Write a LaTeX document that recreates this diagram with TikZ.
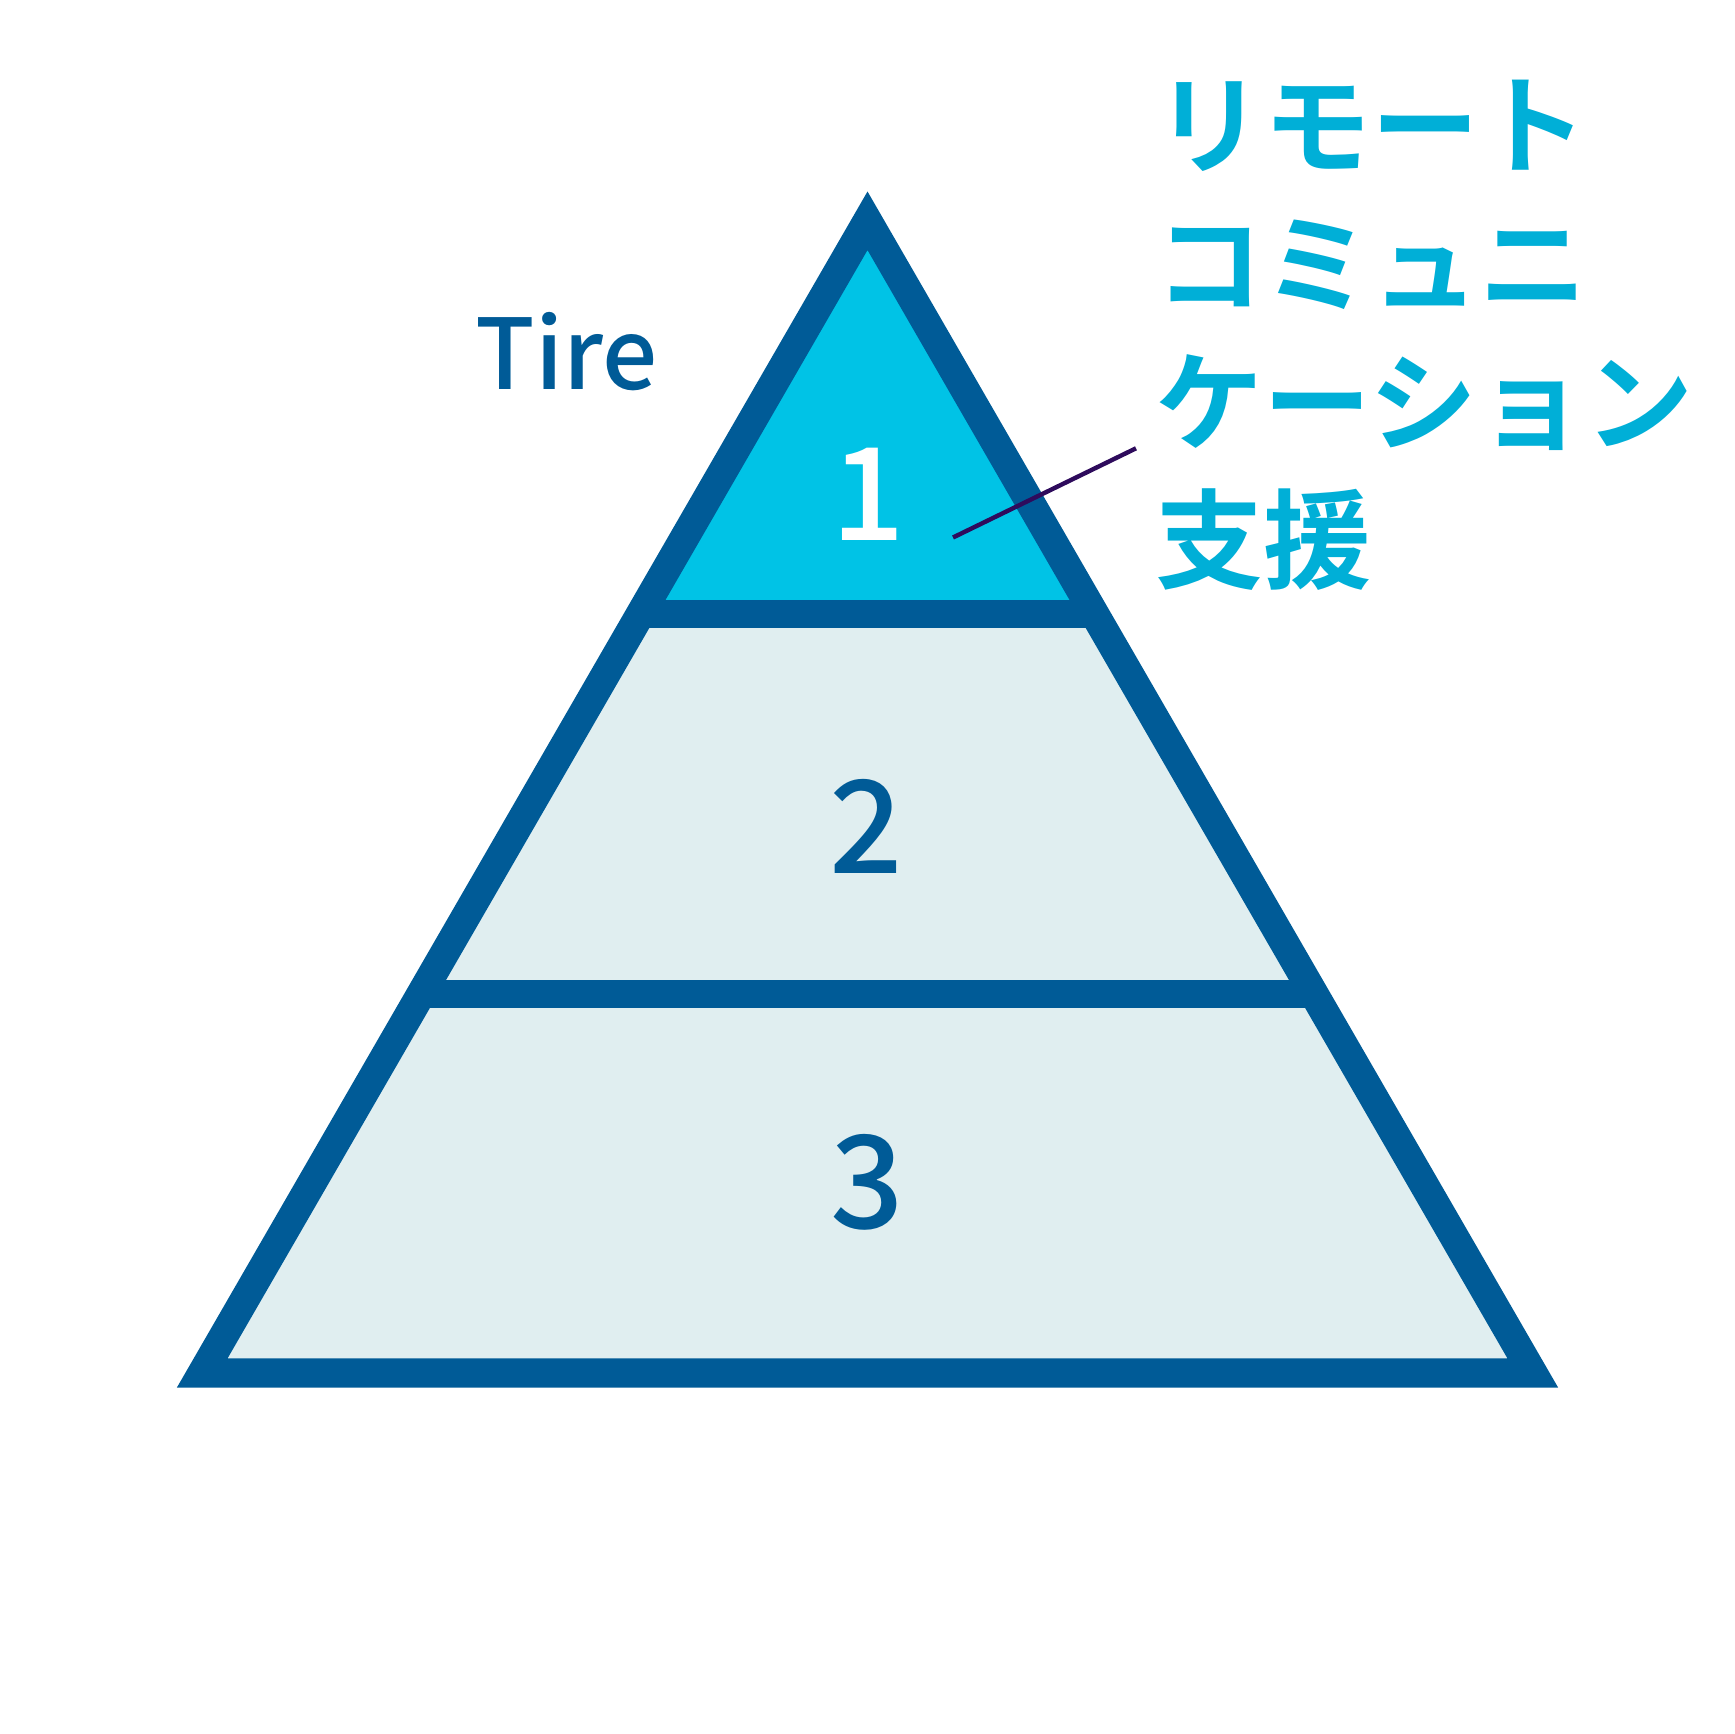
\documentclass[tikz,border=0pt]{standalone}
\usepackage{fontspec}
\setmainfont{Noto Sans CJK JP}[BoldFont={Noto Sans CJK JP Bold}]
\newfontfamily\medfont{Noto Sans CJK JP Medium}
\definecolor{darkblue}{HTML}{005B97}
\definecolor{topcyan}{HTML}{00C3E6}
\definecolor{paleblue}{HTML}{E0EEF0}
\definecolor{jpcyan}{HTML}{00AFD7}
\definecolor{linkpurple}{HTML}{2E0B5C}
\tikzset{
  frame/.style={draw=darkblue, line width=14.65pt, line join=miter, miter limit=10},
  barline/.style={draw=darkblue, line width=14.2pt},
  digit/.style={inner sep=0pt, font=\medfont\fontsize{64.5}{64.5}\selectfont},
  jptext/.style={inner sep=0pt, anchor=base west, text=jpcyan, font=\bfseries\fontsize{54}{54}\selectfont},
  tiretext/.style={inner sep=0pt, anchor=base west, text=darkblue, font=\medfont\fontsize{48.8}{48.8}\selectfont},
  link/.style={draw=linkpurple, line width=2.2pt}
}
\begin{document}
\begin{tikzpicture}[x=0.5pt, y=-0.5pt]
\useasboundingbox (0,0) rectangle (1735,1734);
\fill[white] (0,0) rectangle (1735,1734);
% fills
\fill[paleblue] (640.5,614) -- (202.2,1373) -- (1532.8,1373) -- (1094.5,614) -- cycle;
\fill[topcyan] (867.5,220.8) -- (640.5,614) -- (1094.5,614) -- cycle;
% bars
\path[barline] (640.5,614) -- (1094.5,614);
\path[barline] (421.2,993.8) -- (1313.8,993.8);
% outline
\path[frame] (867.5,220.8) -- (202.2,1373) -- (1532.8,1373) -- cycle;
% numbers
\node[digit, text=white] (n1) at (868,494.5) {1};
\node[digit, text=darkblue] (n2) at (866.7,826.7) {2};
\node[digit, text=darkblue] (n3) at (867,1182.5) {3};
% tier label
\node[tiretext] (tire) at (475,389.3) {Tire};
% japanese label
\node[jptext] (jp1) at (1155,166) {リモート};
\node[jptext] (jp2) at (1155,304) {コミュニ};
\node[jptext] (jp3) at (1155,442) {ケーション};
\node[jptext] (jp4) at (1155,580) {支援};
% connector
\coordinate (la) at (953,537.5);
\coordinate (lb) at (1136,448.3);
\path[link] (la) -- (lb);
\end{tikzpicture}
\end{document}
